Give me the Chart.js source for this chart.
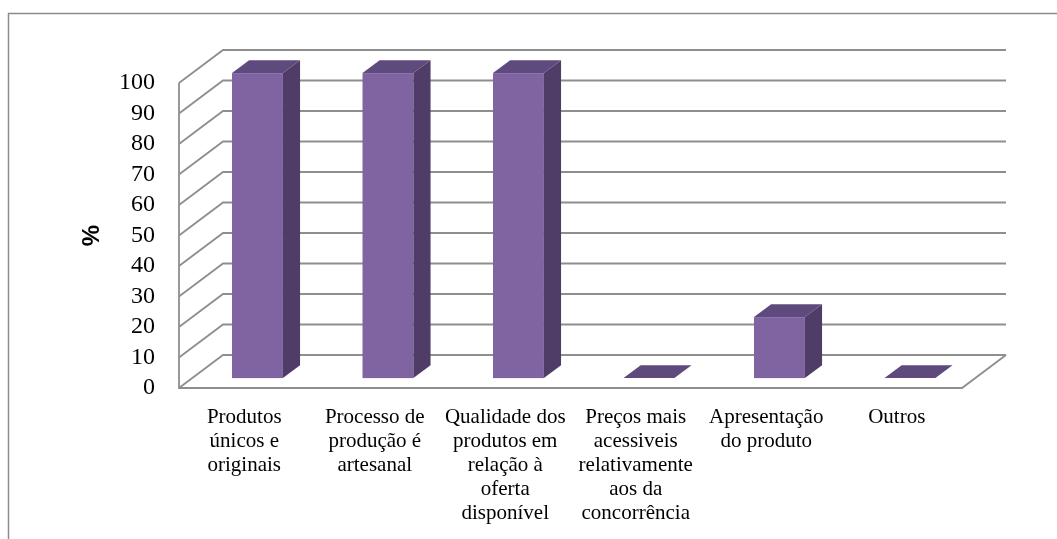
<!DOCTYPE html>
<html>
<head>
<meta charset="utf-8">
<script src="https://cdn.jsdelivr.net/npm/chart.js@4"></script>
<style>
  body { margin: 0; background: #fff; }
  #wrap { width: 1057px; height: 539px; }
</style>
</head>
<body>
<div id="wrap"><canvas id="chart" width="1057" height="539"></canvas></div>
<script>
"use strict";

// Categories (multi-line labels) and the percentage for each
const categories = [
    ['Produtos', 'únicos e', 'originais'],
    ['Processo de', 'produção é', 'artesanal'],
    ['Qualidade dos', 'produtos em', 'relação à', 'oferta', 'disponível'],
    ['Preços mais', 'acessiveis', 'relativamente', 'aos da', 'concorrência'],
    ['Apresentação', 'do produto'],
    ['Outros']
];
const percentages = [100, 100, 100, 0, 20, 0];

// Value axis range
const yMin = 0;
const yMax = 100;
const yStep = 10;

// 3D look: offset of the back wall relative to the front plane
const DEPTH_X = 44;
const DEPTH_Y = -33;
// where the bar boxes sit inside the depth (fractions of the full depth)
const BAR_FRONT = 0.3;
const BAR_DEPTH = 0.39;

const gridColor = '#8e8e8e';
const faceColor = '#8064a2';
const sideColor = '#4f3d68';
const topColor = '#5f4a7e';
const serif = "'Times New Roman', 'Liberation Serif', serif";

const depthPlugin = {
    id: 'depth3d',
    beforeDraw(chart) {
        // outer frame (only left and top edges fall inside the canvas)
        const ctx = chart.ctx;
        ctx.save();
        ctx.strokeStyle = '#8c8c8c';
        ctx.lineWidth = 1.5;
        ctx.beginPath();
        ctx.moveTo(8.5, chart.height);
        ctx.lineTo(8.5, 13.5);
        ctx.lineTo(chart.width, 13.5);
        ctx.stroke();
        ctx.restore();
    },
    beforeDatasetsDraw(chart) {
        const { ctx, chartArea: a, scales: { y } } = chart;
        ctx.save();
        ctx.strokeStyle = gridColor;
        ctx.lineWidth = 1.8;
        ctx.beginPath();
        for (let v = yMin; v <= yMax; v += yStep) {
            const yf = y.getPixelForValue(v);
            // side wall line
            ctx.moveTo(a.left, yf);
            ctx.lineTo(a.left + DEPTH_X, yf + DEPTH_Y);
            // back wall line
            ctx.lineTo(a.right + DEPTH_X, yf + DEPTH_Y);
        }
        // front vertical edge of the side wall
        ctx.moveTo(a.left, y.getPixelForValue(yMax));
        ctx.lineTo(a.left, y.getPixelForValue(yMin));
        // floor front and right edges
        ctx.lineTo(a.right, y.getPixelForValue(yMin));
        ctx.lineTo(a.right + DEPTH_X, y.getPixelForValue(yMin) + DEPTH_Y);
        ctx.stroke();
        ctx.restore();
    },
    afterDatasetsDraw(chart) {
        const ctx = chart.ctx;
        const meta = chart.getDatasetMeta(0);
        const fx = DEPTH_X * BAR_FRONT, fy = DEPTH_Y * BAR_FRONT;
        const dx = DEPTH_X * BAR_DEPTH, dy = DEPTH_Y * BAR_DEPTH;
        ctx.save();
        meta.data.forEach(function (bar) {
            const p = bar.getProps(['x', 'y', 'base', 'width'], true);
            const left = p.x - p.width / 2 + fx;
            const right = left + p.width;
            const top = p.y + fy;
            const bottom = p.base + fy;

            if (bottom - top > 0.5) {
                // front face
                ctx.fillStyle = faceColor;
                ctx.fillRect(left, top, p.width, bottom - top);
                // right side face
                ctx.fillStyle = sideColor;
                ctx.beginPath();
                ctx.moveTo(right, top);
                ctx.lineTo(right + dx, top + dy);
                ctx.lineTo(right + dx, bottom + dy);
                ctx.lineTo(right, bottom);
                ctx.closePath();
                ctx.fill();
            }
            // top face
            ctx.fillStyle = topColor;
            ctx.beginPath();
            ctx.moveTo(left, top);
            ctx.lineTo(right, top);
            ctx.lineTo(right + dx, top + dy);
            ctx.lineTo(left + dx, top + dy);
            ctx.closePath();
            ctx.fill();
        });
        ctx.restore();
    }
};

new Chart(document.getElementById('chart'), {
    type: 'bar',
    data: {
        labels: categories,
        datasets: [{
            data: percentages,
            backgroundColor: 'rgba(0,0,0,0)',
            borderWidth: 0,
            categoryPercentage: 1,
            barPercentage: 0.39
        }]
    },
    options: {
        responsive: false,
        animation: false,
        events: [],
        layout: {
            padding: { left: 78, top: 83, right: 95, bottom: 0 }
        },
        plugins: {
            legend: { display: false },
            tooltip: { enabled: false }
        },
        scales: {
            x: {
                grid: { display: false, drawTicks: false },
                border: { display: false },
                ticks: {
                    color: '#000',
                    padding: 17,
                    maxRotation: 0,
                    autoSkip: false,
                    font: { family: serif, size: 21, lineHeight: '24px' }
                },
                afterFit(scale) { scale.height = 151; }
            },
            y: {
                min: yMin,
                max: yMax,
                grid: { display: false, drawTicks: false },
                border: { display: false },
                ticks: {
                    stepSize: yStep,
                    autoSkip: false,
                    color: '#000',
                    padding: 24,
                    font: { family: serif, size: 24 }
                },
                title: {
                    display: true,
                    text: '%',
                    color: '#000',
                    padding: 0,
                    font: { family: "Arial, 'Liberation Sans', sans-serif", size: 24, weight: 'bold' }
                },
                afterFit(scale) { scale.width = 101; }
            }
        }
    },
    plugins: [depthPlugin]
});
</script>
</body>
</html>
